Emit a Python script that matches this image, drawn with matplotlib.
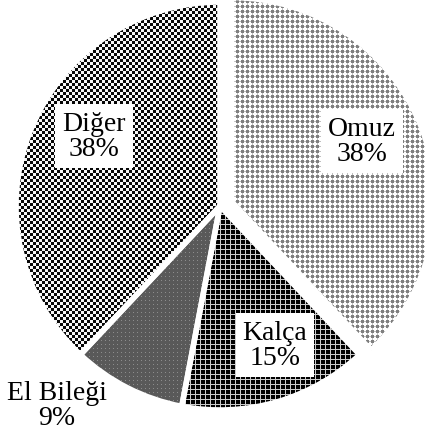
import numpy as np
import matplotlib
matplotlib.use('Agg')
import matplotlib.pyplot as plt

plt.rcParams['font.family'] = ['Liberation Serif', 'DejaVu Serif']
plt.rcParams['font.size'] = 20

# data
labels = ['Omuz', 'Kalça', 'El Bileği', 'Diğer']
values = [38, 15, 9, 38]
explode = [0.06, 0.0, 0.0, 0.0]

# layout (pixels of the 425x435 canvas)
W, H = 425, 435
cx, cy, R = 220, 207, 204
label_pos = [(362, 142), (275, 346), (57, 406), (94, 137)]
boxed = [True, True, False, True]


def texture(kind):
    yy, xx = np.indices((H, W))
    img = np.ones((H, W, 3))
    if kind == 'dots':  # light grey dots on white
        px, py = xx % 5, yy % 5
        core = (px >= 1) & (px <= 3) & (py >= 1) & (py <= 3)
        edge = ((px == 2) & ((py == 0) | (py == 4))) | ((py == 2) & ((px == 0) | (px == 4)))
        img[core] = 0.5
        img[edge & ~core] = 0.75
    elif kind == 'grid':  # black with light grid
        img[:] = 0.0
        line = (xx % 5 == 0) | (yy % 5 == 0)
        img[line] = 0.8
    elif kind == 'fine':  # dark grey with faint dots
        img[:] = 0.35
        dot = (xx % 4 == 1) & (yy % 4 == 1)
        img[dot] = 0.55
    elif kind == 'checker':  # black / white checkerboard
        chk = ((xx // 3) + (yy // 3)) % 2 == 0
        img[:] = 0.97
        img[chk] = 0.03
    return img


patterns = ['dots', 'grid', 'fine', 'checker']

fig = plt.figure(figsize=(W / 100, H / 100), dpi=100)
ax = fig.add_axes([0, 0, 1, 1])
ax.axis('off')

wedges, _ = ax.pie(values, explode=explode, startangle=90, counterclock=False,
                   radius=1.0, center=(0, 0),
                   wedgeprops=dict(facecolor='none', edgecolor='white', linewidth=4))
ext = (-cx / R, (W - cx) / R, -(H - cy) / R, cy / R)
ax.set_aspect('auto')
ax.set_xlim(ext[0], ext[1])
ax.set_ylim(ext[2], ext[3])

for w, p in zip(wedges, patterns):
    im = ax.imshow(texture(p), extent=ext, origin='upper', interpolation='nearest',
                   zorder=1, aspect='auto')
    im.set_clip_path(w)
    w.set_zorder(2)
ax.set_xlim(ext[0], ext[1])
ax.set_ylim(ext[2], ext[3])

for lab, v, (x, y), b in zip(labels, values, label_pos, boxed):
    kw = {}
    if b:
        kw['bbox'] = dict(boxstyle='square,pad=0.25', facecolor='white', edgecolor='none')
    ax.text(x / W, 1 - y / H, f'{lab}\n{v}%', transform=ax.transAxes,
            ha='center', va='center', linespacing=1.0, zorder=5, **kw)

fig.savefig('out.png', dpi=100)
